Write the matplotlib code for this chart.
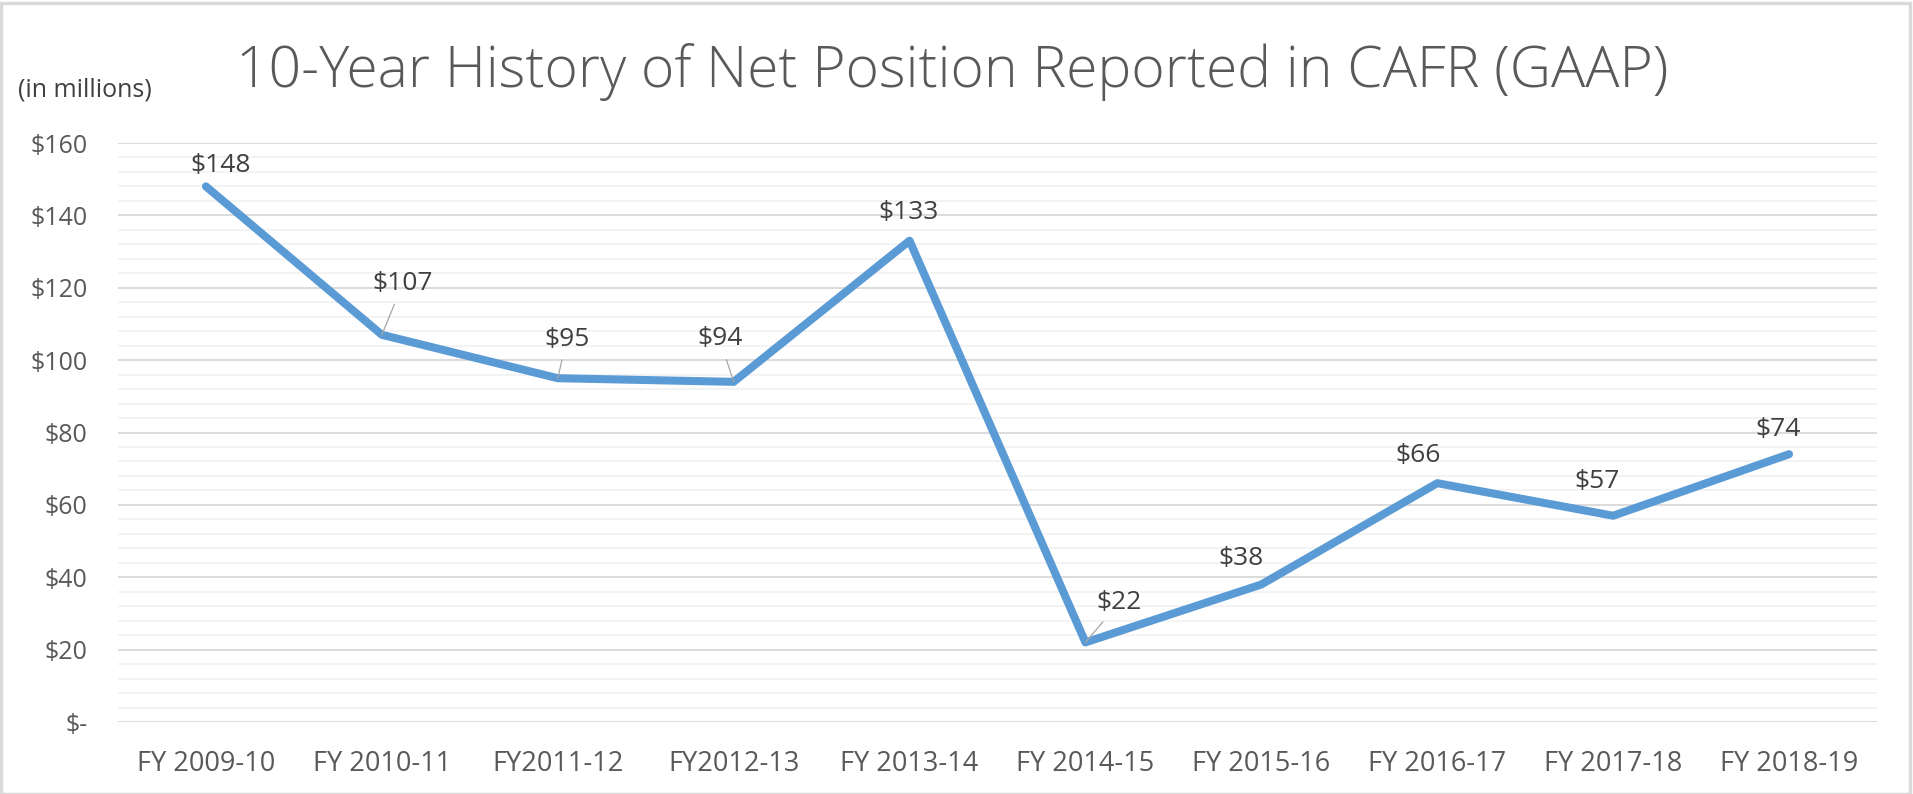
import matplotlib.pyplot as plt
from matplotlib.ticker import MultipleLocator, FuncFormatter
from matplotlib.patches import Rectangle

plt.rcParams['font.family'] = ['Open Sans', 'DejaVu Sans']

# Chart data
years = ["FY 2009-10", "FY 2010-11", "FY2011-12", "FY2012-13", "FY 2013-14",
         "FY 2014-15", "FY 2015-16", "FY 2016-17", "FY 2017-18", "FY 2018-19"]
net_position = [148, 107, 95, 94, 133, 22, 38, 66, 57, 74]

# label offsets in pixels (dx, dy) and whether a leader line is drawn
label_offsets = [(15, 21), (21, 51), (9, 39), (-14, 43), (-1, 28),
                 (34, 40), (-20, 26), (-19, 28), (-16, 34), (-11, 25)]
leaders = [False, True, True, True, False, True, False, False, False, False]

fig = plt.figure(figsize=(19.13, 7.94), dpi=100)
ax = fig.add_axes([118 / 1913, 1 - 722 / 794, (1877 - 118) / 1913, (722 - 143) / 794])

x = list(range(len(years)))
ax.plot(x, net_position, color="#5B9BD5", lw=5.8, solid_capstyle="round",
        solid_joinstyle="round", zorder=3)

for i, v in enumerate(net_position):
    dx, dy = label_offsets[i]
    arrow = None
    if leaders[i]:
        arrow = dict(arrowstyle="-", color="#A6A6A6", lw=0.9, shrinkA=4, shrinkB=0)
    ax.annotate(f"${v}", xy=(i, v), xytext=(dx, dy), textcoords="offset pixels",
                ha="center", va="center", fontsize=19, color="#404040",
                arrowprops=arrow, zorder=4)

ax.set_xlim(-0.5, len(years) - 0.5)
ax.set_ylim(0, 160)
ax.set_xticks(x)
ax.set_xticklabels(years)
ax.yaxis.set_major_locator(MultipleLocator(20))
ax.yaxis.set_minor_locator(MultipleLocator(4))
ax.yaxis.set_major_formatter(FuncFormatter(lambda v, p: "$-" if v == 0 else f"${v:.0f}"))

ax.grid(axis="y", which="major", color="#D9D9D9", lw=1.3)
ax.grid(axis="y", which="minor", color="#F2F2F2", lw=1.3)
ax.set_axisbelow(True)
for s in ax.spines.values():
    s.set_visible(False)
ax.tick_params(axis="both", which="both", length=0, labelcolor="#595959")
ax.tick_params(axis="y", labelsize=18, pad=22)
ax.tick_params(axis="x", labelsize=19.5, pad=20)

fig.text(952 / 1913, 1 - 72 / 794, "10-Year History of Net Position Reported in CAFR (GAAP)",
         ha="center", va="center", fontsize=41, color="#595959", fontweight="light")
fig.text(18 / 1913, 1 - 90 / 794, "(in millions)", ha="left", va="center",
         fontsize=18, color="#404040")

fig.patches.append(Rectangle((1 / 1913, 0), 1 - 4 / 1913, 1 - 3 / 794, transform=fig.transFigure,
                             fill=False, edgecolor="#D9D9D9", lw=2.5))

fig.savefig("out.png", dpi=100)
